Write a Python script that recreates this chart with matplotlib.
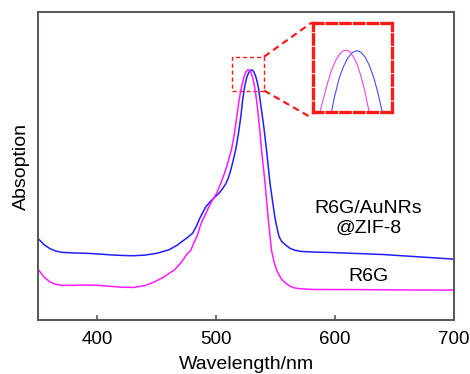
import matplotlib
matplotlib.use("Agg")
import matplotlib.pyplot as plt
from matplotlib.patches import Rectangle

plt.rcParams['font.family'] = ['Liberation Sans', 'DejaVu Sans']

# R6G/AuNRs@ZIF-8 spectrum (blue)
wl_blue = [350, 355, 360, 365, 370, 380, 390, 400, 410, 420, 430, 440, 450, 460,
           467, 470, 475, 480, 483, 486, 491, 495, 499, 502, 505, 508, 510, 512,
           514, 516.4, 518.5, 520.6, 522, 523.3, 524.3, 525.4, 526.4, 527.4, 528.5,
           529.6, 530.6, 531.6, 532.6, 533.6, 534.6, 535.6, 537, 538.8, 540.5,
           542.2, 545.2, 549.2, 551, 552.8, 555, 558.4, 562, 566, 571, 582, 600,
           620, 640, 660, 680, 700]
abs_blue = [0.265, 0.245, 0.232, 0.224, 0.220, 0.218, 0.217, 0.215, 0.212, 0.210,
            0.209, 0.211, 0.217, 0.228, 0.243, 0.252, 0.266, 0.282, 0.303, 0.33,
            0.367, 0.385, 0.40, 0.411, 0.425, 0.443, 0.460, 0.485, 0.515, 0.555,
            0.603, 0.66, 0.71, 0.745, 0.766, 0.7845, 0.796, 0.8045, 0.8101, 0.812,
            0.8103, 0.8051, 0.7965, 0.7845, 0.769, 0.75, 0.71, 0.66, 0.61, 0.552,
            0.443, 0.335, 0.30, 0.271, 0.255, 0.2435, 0.233, 0.227, 0.223, 0.221,
            0.219, 0.216, 0.213, 0.208, 0.203, 0.198]

# R6G spectrum (magenta)
wl_mag = [350, 355, 360, 365, 370, 380, 390, 400, 410, 420, 430, 440, 447.7, 455,
          461.8, 464.5, 470, 475.8, 478.6, 481, 484.2, 486, 488.4, 489.8, 493,
          496.8, 500, 503.8, 507, 510, 512.8, 515, 517, 519, 520.8, 522.6, 523.6,
          524.6, 525.5, 526.3, 527, 527.8, 528.9, 529.7, 530.5, 531.5, 532.4, 534,
          535.4, 536.7, 538, 539.5, 541, 543.5, 546.4, 548.5, 550.8, 553, 555,
          558.4, 562, 565.4, 570, 582, 620, 660, 700]
abs_mag = [0.165, 0.14, 0.124, 0.116, 0.113, 0.113, 0.114, 0.113, 0.110, 0.107,
           0.106, 0.112, 0.124, 0.138, 0.156, 0.162, 0.185, 0.2165, 0.227, 0.25,
           0.276, 0.30, 0.325, 0.335, 0.362, 0.39, 0.41, 0.444, 0.478, 0.515,
           0.555, 0.60, 0.655, 0.71, 0.75, 0.779, 0.7925, 0.8025, 0.8087, 0.8117,
           0.8126, 0.8113, 0.8051, 0.7975, 0.787, 0.7707, 0.752, 0.71, 0.66, 0.61,
           0.552, 0.50, 0.444, 0.335, 0.227, 0.19, 0.162, 0.145, 0.132, 0.12,
           0.11, 0.105, 0.102, 0.0995, 0.099, 0.098, 0.0975]

xticks = [400, 500, 600, 700]

blue = '#1f1fff'
magenta = '#ff1aff'
red = '#ff1a1a'
frame = '#5a5552'

fig = plt.figure(figsize=(4.7, 3.74), dpi=100)
ax = fig.add_axes([0.081, 0.144, 0.885, 0.824])

ax.plot(wl_blue, abs_blue, color=blue, lw=1.1)
ax.plot(wl_mag, abs_mag, color=magenta, lw=1.1)

ax.set_xlim(350, 700)
ax.set_ylim(0, 1)
ax.set_xticks(xticks)
ax.set_yticks([])
ax.tick_params(axis='x', direction='in', length=3.5, width=1.2, color=frame,
               labelsize=13.5, pad=8)
for s in ax.spines.values():
    s.set_color(frame)
    s.set_linewidth(1.4)

ax.set_xlabel('Wavelength/nm', fontsize=14, labelpad=5.5)
ax.set_ylabel('Absoption', fontsize=14, labelpad=6)

ax.text(628, 0.33, 'R6G/AuNRs\n@ZIF-8', ha='center', va='center', fontsize=14,
        linespacing=1.25)
ax.text(628, 0.143, 'R6G', ha='center', va='center', fontsize=14)

# zoom marker on the peak
ax.add_patch(Rectangle((512.8, 0.745), 27.4, 0.11, fill=False, edgecolor=red,
                       lw=1.0, ls=(0, (3, 2))))
ax.plot([540.2, 580.4], [0.855, 0.966], color=red, lw=1.6, ls=(0, (3, 2)),
        clip_on=False)
ax.plot([540.2, 580.0], [0.745, 0.657], color=red, lw=1.6, ls=(0, (3, 2)),
        clip_on=False)

# inset
axin = ax.inset_axes([0.660, 0.674, 0.192, 0.291])
axin.plot(wl_blue, abs_blue, color='#4a4aff', lw=0.8)
axin.plot(wl_mag, abs_mag, color='#ee44ee', lw=0.8)
axin.set_xlim(519.1, 538.0)
axin.set_ylim(0.75, 0.84)
axin.set_xticks([])
axin.set_yticks([])
axin.patch.set_alpha(0)
for s in axin.spines.values():
    s.set_color(red)
    s.set_linewidth(2.4)
    s.set_linestyle((0, (2.8, 1.3)))

fig.savefig('out.png', dpi=100)
